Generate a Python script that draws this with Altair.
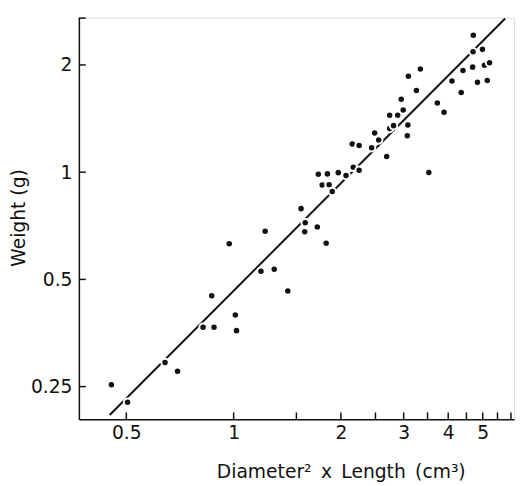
import altair as alt
import pandas as pd

# Diameter^2 x Length (cm^3)
x_vals = [0.454, 0.504, 0.642, 0.696, 0.821, 0.881, 0.868, 0.972, 1.011, 1.019,
          1.193, 1.300, 1.226, 1.419, 1.546, 1.588, 1.583, 1.717, 1.818, 1.728,
          1.833, 1.966, 2.067, 1.772, 1.853, 1.891, 2.166, 2.250, 2.152, 2.250,
          2.439, 2.487, 2.552, 2.688, 2.740, 2.810, 2.740, 2.886, 2.991, 2.953,
          3.082, 3.072, 3.257, 3.092, 3.341, 3.529, 3.730, 3.895, 4.098, 4.350,
          4.400, 4.683, 4.695, 4.704, 4.991, 4.832, 5.055, 5.224, 5.149]
# Weight (g)
y_vals = [0.253, 0.226, 0.292, 0.276, 0.367, 0.367, 0.450, 0.630, 0.397, 0.359,
          0.527, 0.534, 0.683, 0.464, 0.790, 0.721, 0.680, 0.702, 0.632, 0.987,
          0.989, 0.997, 0.979, 0.921, 0.922, 0.882, 1.032, 1.012, 1.200, 1.188,
          1.171, 1.288, 1.232, 1.107, 1.327, 1.351, 1.444, 1.444, 1.495, 1.602,
          1.356, 1.266, 1.696, 1.858, 1.948, 0.998, 1.564, 1.472, 1.804, 1.673,
          1.930, 1.972, 2.178, 2.425, 2.212, 1.787, 1.995, 2.030, 1.810]

# fitted line end points
line_x = [0.449, 5.78]
line_y = [0.208, 2.70]

x_tick_vals = [0.5, 1, 1.5, 2, 2.5, 3, 3.5, 4, 4.5, 5, 5.5, 6]
x_label_vals = [0.5, 1, 2, 3, 4, 5]
y_tick_vals = [0.25, 0.5, 1, 2]

x_domain = [0.368, 6.12]
y_domain = [0.2024, 2.716]

FONT = "DejaVu Sans"
INK = "#111111"

xscale = alt.Scale(type="log", domain=x_domain, nice=False)
yscale = alt.Scale(type="log", domain=y_domain, nice=False)

xaxis = alt.Axis(
    title="Diameter²\u2002x\u2002Length\u2002(cm³)", values=x_label_vals, format="~g",
    ticks=False, tickSize=0, grid=False, domainColor=INK, domainWidth=1.5,
    labelFont=FONT, labelFontSize=19, labelColor=INK, labelPadding=5,
    titleFont=FONT, titleFontSize=19, titleFontWeight="normal", titleColor=INK,
    titleX=266, titleY=59, titleBaseline="alphabetic", titleAlign="center",
)
yaxis = alt.Axis(
    title="Weight (g)", values=y_tick_vals, format="~g",
    ticks=False, tickSize=0, grid=False, domainColor=INK, domainWidth=1.5,
    labelFont=FONT, labelFontSize=19, labelColor=INK, labelPadding=7,
    titleFont=FONT, titleFontSize=19, titleFontWeight="normal", titleColor=INK,
    titleX=-55, titleY=203, titleAngle=270, titleBaseline="alphabetic", titleAlign="center",
)

pts = pd.DataFrame({"x": x_vals, "y": y_vals})
ln = pd.DataFrame({"x": line_x, "y": line_y})
xt = pd.DataFrame({"x": x_tick_vals})
yt = pd.DataFrame({"y": y_tick_vals})

line = alt.Chart(ln).mark_line(color=INK, strokeWidth=2).encode(
    x=alt.X("x:Q", scale=xscale, axis=xaxis),
    y=alt.Y("y:Q", scale=yscale, axis=yaxis),
)

points = alt.Chart(pts).mark_circle(
    size=58, fill=INK, stroke="white", strokeWidth=2, opacity=1
).encode(
    x=alt.X("x:Q", scale=xscale, axis=xaxis),
    y=alt.Y("y:Q", scale=yscale, axis=yaxis),
)

xticks = alt.Chart(xt).mark_rule(color=INK, strokeWidth=1.5).encode(
    x=alt.X("x:Q", scale=xscale, axis=xaxis),
    y=alt.value(408), y2=alt.value(401),
)
yticks = alt.Chart(yt).mark_rule(color=INK, strokeWidth=1.5).encode(
    y=alt.Y("y:Q", scale=yscale, axis=yaxis),
    x=alt.value(0), x2=alt.value(7),
)
cap = alt.Chart(pd.DataFrame({"a": [0]})).mark_rule(color=INK, strokeWidth=1.5).encode(
    y=alt.value(0.5), x=alt.value(0), x2=alt.value(7),
)

chart = alt.layer(line, points, xticks, yticks, cap).properties(
    width=442, height=408, autosize="none",
    padding={"left": 72, "top": 6, "right": 2, "bottom": 64},
).configure_view(stroke=None).configure(background="white")

chart.save("out.html", embed_options={"renderer": "svg", "actions": False})
